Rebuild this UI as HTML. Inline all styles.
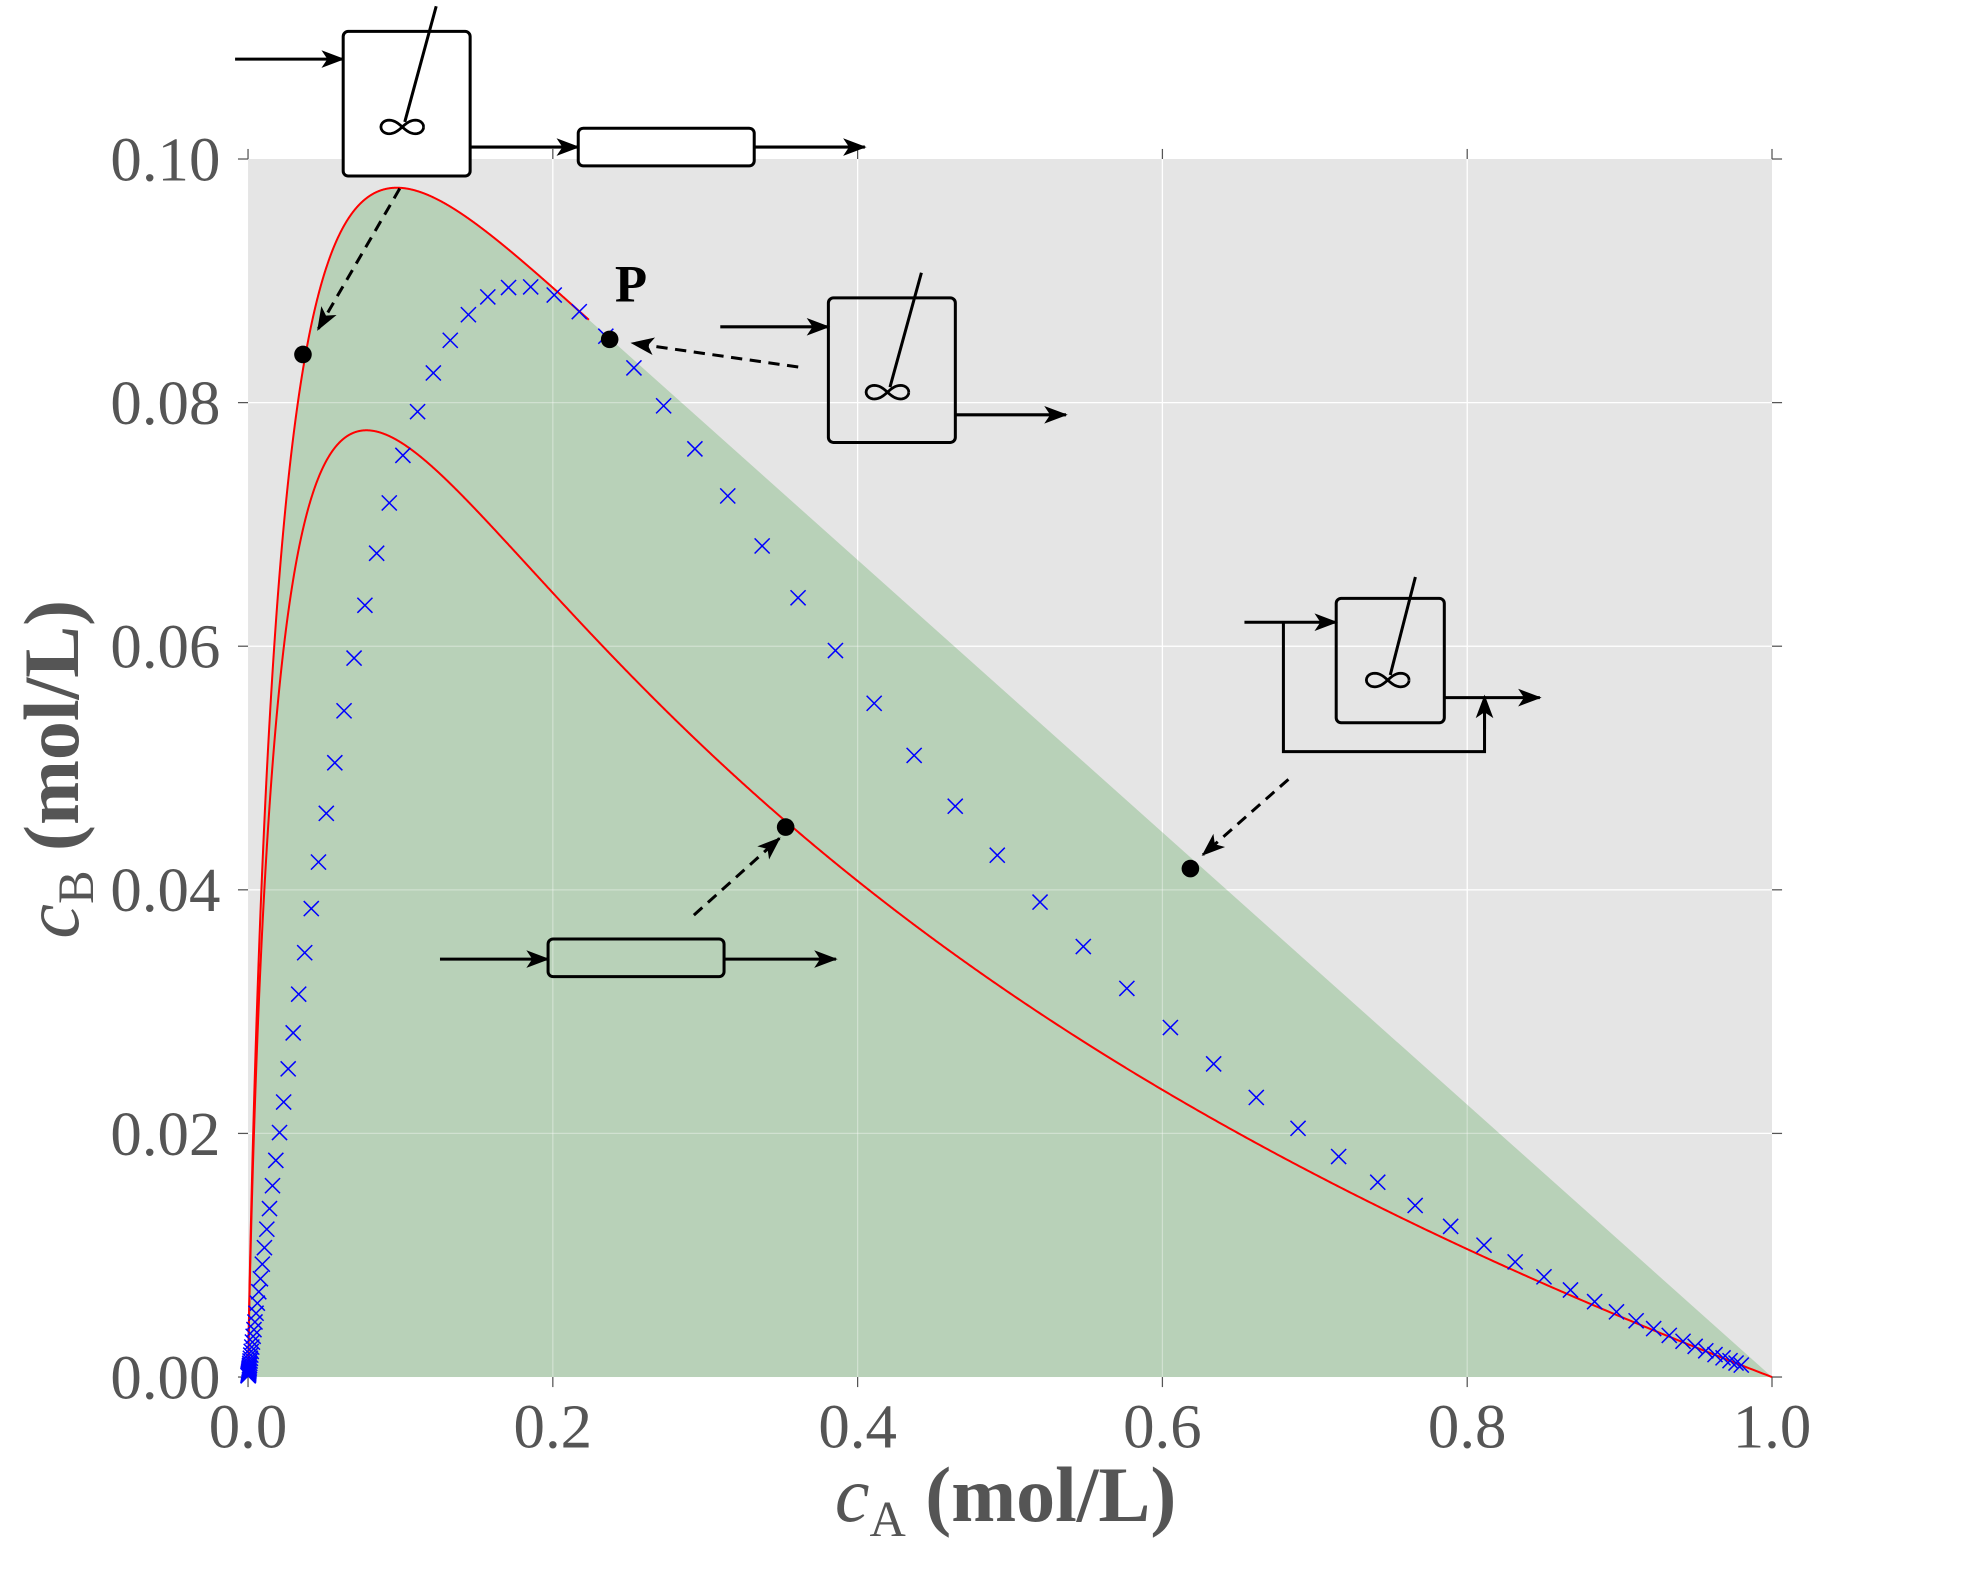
<!DOCTYPE html>
<html><head><meta charset="utf-8"><style>
html,body{margin:0;padding:0;background:#fff;}
svg{display:block;}
</style></head><body>
<svg id="s" xmlns="http://www.w3.org/2000/svg" width="1969" height="1575" viewBox="0 0 1566.4 1253">
<rect x="197.3" y="126.5" width="1212.4" height="969" fill="#e5e5e5"/>
<g id="grid"></g>
<path id="fill" fill="#b8d1b8"/>
<g id="grid2"></g>
<g id="ticks" stroke="#555" stroke-width="1"></g>
<path id="pfr1" fill="none" stroke="#ff0000" stroke-width="1.6"/>
<path id="pfr2" fill="none" stroke="#ff0000" stroke-width="1.6"/>
<g id="cross" stroke="#0000ff" stroke-width="1.2"></g>
<g id="labels" font-family="Liberation Serif, serif" fill="#555" font-size="50"></g>
<text x="800" y="1210" text-anchor="middle" font-family="Liberation Serif, serif" font-weight="bold" font-size="62" fill="#555"><tspan font-style="italic" font-weight="normal">c</tspan><tspan font-size="40" font-weight="normal" dy="12">A</tspan><tspan dy="-12"> (mol/L)</tspan></text>
<text transform="translate(62,612) rotate(-90)" text-anchor="middle" font-family="Liberation Serif, serif" font-weight="bold" font-size="62" fill="#555"><tspan font-style="italic" font-weight="normal">c</tspan><tspan font-size="40" font-weight="normal" dy="12">B</tspan><tspan dy="-12"> (mol/L)</tspan></text>
<g id="diag" stroke="#000" stroke-width="2.4" fill="none" stroke-linecap="butt"></g>
<text x="502" y="240" text-anchor="middle" font-family="Liberation Serif, serif" font-weight="bold" font-size="42" fill="#000">P</text>
</svg>
<script>
var NS="http://www.w3.org/2000/svg";
var X0=197.3,X1=1409.7,Y0=1095.5,YT=126.5;
function px(a){return X0+a*(X1-X0);}
function py(b){return Y0-b/0.1*(Y0-YT);}
function el(tag,attrs,parent,text){var e=document.createElementNS(NS,tag);for(var k in attrs)e.setAttribute(k,attrs[k]);if(text!==undefined)e.textContent=text;document.getElementById(parent).appendChild(e);return e;}
var K=20;
for(var i=1;i<5;i++){var x=px(i*0.2);el('line',{x1:x,y1:YT,x2:x,y2:Y0,stroke:'#fff','stroke-width':1},'grid');}
for(var i=1;i<5;i++){var y=py(i*0.02);el('line',{x1:X0,y1:y,x2:X1,y2:y,stroke:'#fff','stroke-width':1},'grid');}
for(var i=1;i<5;i++){var x=px(i*0.2);el('line',{x1:x,y1:YT,x2:x,y2:Y0,stroke:'#fff','stroke-width':1,'stroke-opacity':0.35},'grid2');}
for(var i=1;i<5;i++){var y=py(i*0.02);el('line',{x1:X0,y1:y,x2:X1,y2:y,stroke:'#fff','stroke-width':1,'stroke-opacity':0.35},'grid2');}
for(var i=0;i<=5;i++){var x=px(i*0.2);
 el('line',{x1:x,y1:Y0,x2:x,y2:Y0+8},'ticks');el('line',{x1:x,y1:YT,x2:x,y2:YT-8},'ticks');
 el('text',{x:x,y:Y0+56,'text-anchor':'middle'},'labels',(i*0.2).toFixed(1));
 var y=py(i*0.02);
 el('line',{x1:X0-8,y1:y,x2:X0,y2:y},'ticks');el('line',{x1:X1,y1:y,x2:X1+8,y2:y},'ticks');
 el('text',{x:X0-22,y:y+17,'text-anchor':'end'},'labels',(i*0.02).toFixed(2));
}
function pfr(a,b){var pts=[[a,b]],t=0;
 function f(A,B){return [-(A+K*A*A),A-B];}
 while(t<2e5&&a>3e-5){var h=0.002*(0.05+t);if(h<1e-4)h=1e-4;
  var k1=f(a,b),k2=f(a+h/2*k1[0],b+h/2*k1[1]),k3=f(a+h/2*k2[0],b+h/2*k2[1]),k4=f(a+h*k3[0],b+h*k3[1]);
  a+=h/6*(k1[0]+2*k2[0]+2*k3[0]+k4[0]);b+=h/6*(k1[1]+2*k2[1]+2*k3[1]+k4[1]);t+=h;pts.push([a,b]);}
 pts.push([0,0]);return pts;}
function toPath(p){var s='';for(var i=0;i<p.length;i++){s+=(i?'L':'M')+px(p[i][0]).toFixed(2)+','+py(p[i][1]).toFixed(2);}return s;}
function cstr(t){var lo=0,hi=1;for(var i=0;i<60;i++){var m=(lo+hi)/2;if(1-m-t*(m+K*m*m)>0)lo=m;else hi=m;}var A=(lo+hi)/2;return [A,t*A/(1+t)];}
var Pa=0.238,Pb=0;
var bestS=0;for(var t=0.01;t<20;t*=1.002){var c=cstr(t);var s=c[1]/(1-c[0]);if(s>bestS){bestS=s;Pa=c[0];Pb=c[1];}}
var p1=pfr(1,0),p2=pfr(Pa,Pb);
document.getElementById('pfr1').setAttribute('d',toPath(p1));
document.getElementById('pfr2').setAttribute('d',toPath(p2));
var fp=toPath(p2.slice().reverse())+'L'+px(Pa)+','+py(Pb)+'L'+px(1)+','+py(0)+'Z';
document.getElementById('fill').setAttribute('d',fp);
for(var i=0;i<100;i++){var t=Math.pow(10,-3+i*7/99);var c=cstr(t);var x=px(c[0]),y=py(c[1]),r=6;
 el('path',{d:'M'+(x-r)+','+(y-r)+'L'+(x+r)+','+(y+r)+'M'+(x-r)+','+(y+r)+'L'+(x+r)+','+(y-r)},'cross');}
function arrow(x1,y1,x2,y2,dash){el('line',{x1:x1,y1:y1,x2:x2,y2:y2,'stroke-dasharray':dash?'9,6':'none'},'diag');
 var a=Math.atan2(y2-y1,x2-x1),L=16,W=6;var bx=x2-L*Math.cos(a),by=y2-L*Math.sin(a);
 el('path',{d:'M'+x2+','+y2+'L'+(bx-W*Math.sin(a))+','+(by+W*Math.cos(a))+'L'+(bx+4*Math.cos(a))+','+(by+4*Math.sin(a))+'L'+(bx+W*Math.sin(a))+','+(by-W*Math.cos(a))+'Z',fill:'#000','stroke-width':1},'diag');}
function box(x,y,w,h,fill){el('rect',{x:x,y:y,width:w,height:h,rx:4,fill:fill||'none'},'diag');}
function stir(x1,y1,cx,cy){el('line',{x1:x1,y1:y1,x2:cx+2,y2:cy-4},'diag');
 var s='';for(var i=0;i<=60;i++){var t=i/60*2*Math.PI;var d=1+Math.sin(t)*Math.sin(t);var X=17*Math.cos(t)/d,Y=17*Math.sin(t)*Math.cos(t)/d;s+=(i?'L':'M')+(cx+X).toFixed(2)+','+(cy+Y*0.9).toFixed(2);}
 el('path',{d:s,'stroke-width':2.2},'diag');}
function dot(a,b){el('circle',{cx:a,cy:b,r:7,fill:'#000',stroke:'none'},'diag');}
arrow(187,47,273,47);box(273,25,101,115,'#fff');stir(347,5,320,101);
arrow(374,117,460,117);box(460,102,140,30,'#fff');arrow(600,117,688,117);
arrow(318,150,253,262,true);dot(241,282);
dot(485,270);arrow(635,292,503,273,true);
arrow(573,260,659,260);box(659,237,101,115);stir(733,217,706,312);arrow(760,330,848,330);
arrow(990,495,1063,495);box(1063,476,86,99);stir(1126,459,1104,541);arrow(1149,555,1225,555);
el('path',{d:'M1021,495L1021,598L1181,598L1181,566'},'diag');arrow(1181,580,1181,554);
arrow(1025,620,957,680,true);dot(947,691);
arrow(350,763,436,763);box(436,747,140,30);arrow(576,763,665,763);
arrow(552,728,620,667,true);dot(625,658);
</script>
</body></html>
